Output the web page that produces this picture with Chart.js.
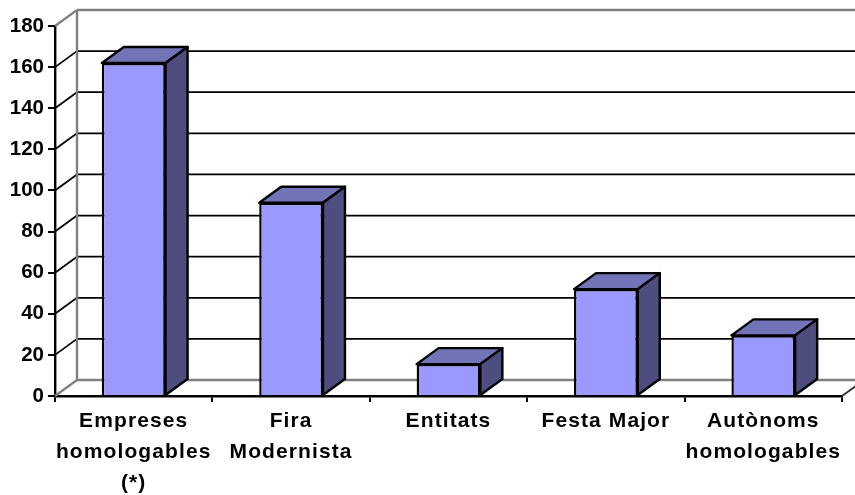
<!DOCTYPE html>
<html>
<head>
<meta charset="utf-8">
<script src="https://cdn.jsdelivr.net/npm/chart.js@4/dist/chart.umd.min.js"></script>
<style>
  html, body { margin: 0; padding: 0; background: #fff; }
  canvas { display: block; }
</style>
</head>
<body>
<canvas id="chart" width="855" height="495"></canvas>
<script>
const categories = [
    ['Empreses', 'homologables', '(*)'],
    ['Fira', 'Modernista'],
    'Entitats',
    'Festa Major',
    ['Autònoms', 'homologables']
];
const seriesValues = [162, 94, 15.5, 52, 29.5];
const yMin = 0;
const yMax = 180;
const yStep = 20;

const DEPTH_X = 22;
const DEPTH_Y = 16;
const FONT = '"Liberation Sans", Arial, sans-serif';

function line(ctx, x1, y1, x2, y2, color, width) {
    ctx.strokeStyle = color;
    ctx.lineWidth = width;
    ctx.beginPath();
    ctx.moveTo(x1, y1);
    ctx.lineTo(x2, y2);
    ctx.stroke();
}

function poly(ctx, pts, fill) {
    ctx.fillStyle = fill;
    ctx.strokeStyle = '#000';
    ctx.lineWidth = 2.4;
    ctx.lineJoin = 'round';
    ctx.beginPath();
    pts.forEach((p, i) => i ? ctx.lineTo(p[0], p[1]) : ctx.moveTo(p[0], p[1]));
    ctx.closePath();
    ctx.fill();
    ctx.stroke();
}

// Excel style 3D box: back wall and side wall behind the bars, depth faces on them
const box3d = {
    id: 'box3d',
    afterLayout(chart) {
        // tick labels on the x axis are letter spaced in the original
        const x = chart.scales.x;
        if (x._spaced) return;
        const drawLabels = x.drawLabels;
        x.drawLabels = function (area) {
            const ctx = chart.ctx;
            ctx.save();
            ctx.letterSpacing = '1.1px';
            drawLabels.call(this, area);
            ctx.restore();
        };
        x._spaced = true;
    },
    beforeDatasetsDraw(chart) {
        const { ctx, scales: { x, y } } = chart;
        const left = x.left;
        const right = x.right;
        ctx.save();
        y.ticks.forEach(t => {
            const py = y.getPixelForValue(t.value);
            const edge = t.value === yMin || t.value === yMax;
            const color = edge ? '#808080' : '#000';
            const width = edge ? 2.4 : 1.8;
            line(ctx, left, py, left + DEPTH_X, py - DEPTH_Y, color, width);
            line(ctx, left + DEPTH_X, py - DEPTH_Y, right + DEPTH_X, py - DEPTH_Y, color, width);
        });
        line(ctx, left + DEPTH_X, y.getPixelForValue(yMax) - DEPTH_Y, left + DEPTH_X, y.getPixelForValue(yMin) - DEPTH_Y, '#808080', 2.4);
        line(ctx, right, y.getPixelForValue(yMin), right + DEPTH_X, y.getPixelForValue(yMin) - DEPTH_Y, '#303030', 1.8);
        ctx.restore();
    },
    afterDatasetsDraw(chart) {
        const ctx = chart.ctx;
        ctx.save();
        chart.getDatasetMeta(0).data.forEach(bar => {
            const l = bar.x - bar.width / 2;
            const r = bar.x + bar.width / 2;
            const t = bar.y;
            const b = bar.base;
            poly(ctx, [[l, t], [l + DEPTH_X, t - DEPTH_Y], [r + DEPTH_X, t - DEPTH_Y], [r, t]], '#7373B8');
            poly(ctx, [[r, t], [r + DEPTH_X, t - DEPTH_Y], [r + DEPTH_X, b - DEPTH_Y], [r, b]], '#4D4D80');
        });
        ctx.restore();
    }
};

new Chart(document.getElementById('chart'), {
    type: 'bar',
    data: {
        labels: categories,
        datasets: [{
            data: seriesValues,
            backgroundColor: '#9999FF',
            borderColor: '#000',
            borderWidth: 2.4,
            barPercentage: 0.405,
            categoryPercentage: 1
        }]
    },
    options: {
        responsive: false,
        animation: false,
        layout: { padding: { top: 26, right: 13, left: 0, bottom: 0 } },
        plugins: { legend: { display: false }, tooltip: { enabled: false } },
        scales: {
            x: {
                offset: true,
                grid: { offset: true, drawOnChartArea: false, color: '#000', lineWidth: 2, tickLength: 6 },
                border: { color: '#000', width: 2.5 },
                ticks: {
                    color: '#000',
                    maxRotation: 0,
                    autoSkip: false,
                    padding: 4,
                    font: { family: FONT, size: 21, weight: 'bold', lineHeight: 1.48 }
                },
                afterFit(scale) {
                    scale.height = 99;
                    scale.paddingLeft = 0;
                    scale.paddingRight = 0;
                }
            },
            y: {
                min: yMin,
                max: yMax,
                ticks: {
                    stepSize: yStep,
                    color: '#000',
                    padding: 4,
                    font: { family: FONT, size: 20.5, weight: 'bold' }
                },
                grid: { drawOnChartArea: false, color: '#000', lineWidth: 2, tickLength: 7 },
                border: { color: '#000', width: 2.4 },
                afterFit(scale) {
                    scale.width = 55;
                    scale.paddingTop = 0;
                    scale.paddingBottom = 0;
                }
            }
        }
    },
    plugins: [box3d]
});
</script>
</body>
</html>
